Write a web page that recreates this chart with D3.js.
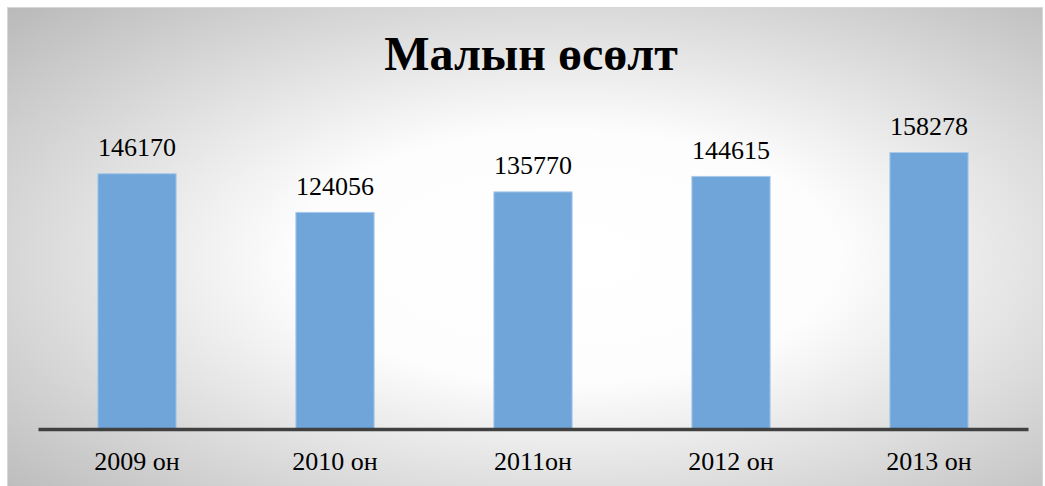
<!DOCTYPE html>
<html>
<head>
<meta charset="utf-8">
<script src="https://cdn.jsdelivr.net/npm/d3@7"></script>
<style>
  html, body { margin: 0; padding: 0; background: #ffffff; }
  svg { display: block; }
</style>
</head>
<body>
<svg id="chart" width="1045" height="486"></svg>
<script>
const title = "Малын өсөлт";
const categories = ["2009 он", "2010 он", "2011он", "2012 он", "2013 он"];
const values = [146170, 124056, 135770, 144615, 158278];

const W = 1045, H = 486;
const svg = d3.select("#chart");

const defs = svg.append("defs");
const grad = defs.append("radialGradient")
  .attr("id", "bg").attr("cx", "54%").attr("cy", "52%").attr("r", "75%");
grad.append("stop").attr("offset", "0%").attr("stop-color", "#ffffff");
grad.append("stop").attr("offset", "35%").attr("stop-color", "#fdfdfd");
grad.append("stop").attr("offset", "100%").attr("stop-color", "#b9b9b9");

svg.append("rect")
  .attr("x", 7.5).attr("y", 7.5).attr("width", 1035).attr("height", 480)
  .attr("fill", "url(#bg)")
  .attr("stroke", "#d6d6d6").attr("stroke-width", 1);

const x = d3.scaleBand().domain(categories).range([38, 1028]).paddingInner(0.6).paddingOuter(0.3);
const y = d3.scaleLinear().domain([0, 180000]).range([429, 114]);

svg.append("text")
  .attr("x", 531).attr("y", 70)
  .attr("text-anchor", "middle")
  .attr("font-family", "'Liberation Serif', 'Times New Roman', serif")
  .attr("font-weight", "bold")
  .attr("font-size", 48)
  .attr("fill", "#000")
  .text(title);

const data = categories.map((c, i) => ({ c, v: values[i] }));

svg.selectAll("rect.bar").data(data).enter().append("rect")
  .attr("class", "bar")
  .attr("x", d => x(d.c) + 0.5)
  .attr("y", d => y(d.v) + 0.5)
  .attr("width", x.bandwidth() - 1)
  .attr("height", d => y(0) - y(d.v) - 0.5)
  .attr("fill", "#6fa5d8")
  .attr("stroke", "#a8c9ec")
  .attr("stroke-width", 1);

svg.selectAll("text.val").data(data).enter().append("text")
  .attr("class", "val")
  .attr("x", d => x(d.c) + x.bandwidth() / 2)
  .attr("y", d => y(d.v) - 17)
  .attr("text-anchor", "middle")
  .attr("font-family", "'Liberation Serif', 'Times New Roman', serif")
  .attr("font-size", 26)
  .attr("fill", "#000")
  .text(d => d.v);

const axis = d3.axisBottom(x).tickSize(0).tickPadding(0);
const gx = svg.append("g").attr("transform", `translate(0,${y(0)})`).call(axis);
gx.select(".domain").attr("stroke", "#404040").attr("stroke-width", 3.5);
gx.selectAll("text")
  .attr("y", 41)
  .attr("dy", 0)
  .attr("font-family", "'Liberation Serif', 'Times New Roman', serif")
  .attr("font-size", 26)
  .attr("fill", "#000");
</script>
</body>
</html>
